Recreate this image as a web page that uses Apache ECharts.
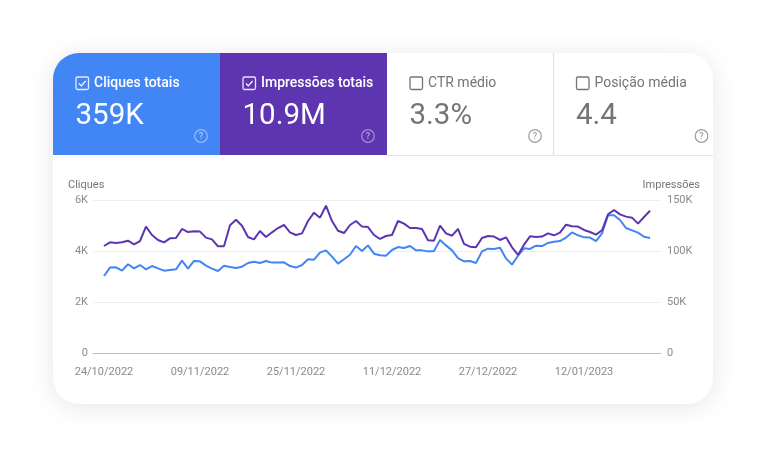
<!DOCTYPE html>
<html><head><meta charset="utf-8">
<style>html,body{margin:0;padding:0;background:#fff}#c{width:767px;height:457px}</style>
<script src="https://cdn.jsdelivr.net/npm/echarts@6/dist/echarts.min.js"></script>
</head><body><div id="c"></div>
<script>
const tickDays = [0,16,32,48,64,80];
const tickDates = ['24/10/2022','09/11/2022','25/11/2022','11/12/2022','27/12/2022','12/01/2023'];
const leftTicks = ['0','2K','4K','6K'];
const rightTicks = ['0','50K','100K','150K'];
const clicks = [3020,3350,3360,3230,3480,3320,3450,3280,3410,3320,3230,3255,3280,3620,3310,3610,3595,3425,3310,3215,3425,3370,3335,3385,3530,3580,3530,3610,3545,3545,3555,3410,3350,3450,3675,3660,3935,4025,3780,3505,3675,3855,4195,4000,4220,3895,
3830,3815,4040,4155,4120,4195,4025,4025,3985,4000,4430,4220,4025,3725,3595,3610,3530,3985,4090,4080,4130,3710,3465,3815,4105,4080,4210,4195,4315,4365,4390,4525,4730,4615,4535,4525,4390,4690,5400,5400,5215,4900,4810,4720,4560,4510];
const impressions = [104900,108500,107800,108500,110100,106500,109800,123900,115700,110800,108500,112400,112700,121600,118600,119300,119000,113100,111400,104600,104600,125200,130700,124800,113700,111400,119600,113700,118300,122500,125500,118300,115700,117300,129400,137600,132700,144400,129400,119900,117600,125500,129400,123900,123500,115700,
111800,114700,115700,129400,126800,122500,122500,121600,110500,110100,124800,117300,115000,121600,106900,104200,103600,112700,114700,114100,110800,113400,103600,96100,106200,114400,113700,114100,117300,115400,118000,125800,124200,123900,120600,118600,116000,120300,135900,140200,135900,133700,132700,126800,133300,139500];
const cards = [
  {title:'Cliques totais', value:'359K', fill:'#4285f4', on:true, x:53, w:167},
  {title:'Impressões totais', value:'10.9M', fill:'#5e35b1', on:true, x:220, w:167},
  {title:'CTR médio', value:'3.3%', fill:'#ffffff', on:false, x:387, w:166},
  {title:'Posição média', value:'4.4', fill:'#ffffff', on:false, x:553.5, w:159.5}
];

const CY = 53, CH = 102;
const g = [];
g.push({type:'rect', z:0, shape:{x:53,y:53,width:660,height:351,r:26},
  style:{fill:'#fff', shadowBlur:26, shadowColor:'rgba(0,0,0,0.10)', shadowOffsetY:3}});
cards.forEach((c,i) => {
  const x = c.x;
  const r = i===0 ? [26,0,0,0] : i===3 ? [0,26,0,0] : 0;
  g.push({type:'rect', z:1, shape:{x:x,y:CY,width:c.w,height:CH,r:r}, style:{fill:c.fill}});
  const fg = c.on ? '#ffffff' : '#757575';
  const bx = x+23, by = 77;
  g.push({type:'rect', z:2, shape:{x:bx,y:by,width:12.5,height:12.5,r:1.5},
    style:{fill:'none', stroke: c.on ? 'rgba(255,255,255,0.85)' : '#757575', lineWidth:1.3}});
  if (c.on) g.push({type:'polyline', z:2, shape:{points:[[bx+3,by+6.5],[bx+5.3,by+8.8],[bx+9.6,by+4]]},
    style:{fill:'none', stroke:'#fff', lineWidth:1.2}});
  g.push({type:'text', z:2, x:x+41, y:83.5, style:{text:c.title, fill:fg, font:(c.on?'500':'400')+' 14px Roboto', verticalAlign:'middle', align:'left'}});
  g.push({type:'text', z:2, x:x+22.5, y:117, style:{text:c.value, fill:fg, font:'400 29.5px Roboto', verticalAlign:'middle', align:'left'}});
  g.push({type:'circle', z:2, shape:{cx:x+148,cy:136,r:6.3},
    style:{fill:'none', stroke: c.on ? 'rgba(255,255,255,0.45)' : '#9e9e9e', lineWidth:1.2}});
  g.push({type:'text', z:2, x:x+148, y:136.5, style:{text:'?', fill: c.on ? 'rgba(255,255,255,0.55)' : '#9e9e9e', font:'500 9px Roboto', align:'center', verticalAlign:'middle'}});
});
g.push({type:'line', z:2, shape:{x1:553.5,y1:53,x2:553.5,y2:155}, style:{stroke:'#e0e0e0',lineWidth:1}});
g.push({type:'line', z:2, shape:{x1:387,y1:155.5,x2:713,y2:155.5}, style:{stroke:'#e6e6e6',lineWidth:1}});

const yLabel = (ticks, step, side) => ({color:'#8a8a8a', fontFamily:'Roboto', fontSize:11, margin:side==='l'?5:6, padding:[4,0,0,0],
  formatter: v => ticks[Math.round(v/step)]});
const chart = echarts.init(document.getElementById('c'), null, {renderer:'canvas'});
chart.setOption({
  animation:false,
  backgroundColor:'#ffffff',
  graphic:{elements:g},
  grid:{left:93, right:106, top:200, bottom:104, containLabel:false, z:3},
  xAxis:{type:'value', min:-1.83, max:92.83,
    axisLine:{onZero:false, show:true, lineStyle:{color:'#bdbdbd',width:1}},
    axisTick:{show:false}, splitLine:{show:false},
    axisLabel:{customValues:tickDays, formatter:v=>tickDates[tickDays.indexOf(Math.round(v))], color:'#8a8a8a', fontFamily:'Roboto', fontSize:11, margin:14}},
  yAxis:[
    {type:'value', min:0, max:6000, interval:2000, name:'Cliques', nameLocation:'end', nameGap:9,
     nameTextStyle:{color:'#757575', fontFamily:'Roboto', fontSize:11, align:'left', padding:[0,0,0,-36]},
     axisLine:{show:false}, axisTick:{show:false}, axisLabel:yLabel(leftTicks,2000,'l'),
     splitLine:{lineStyle:{color:'#eeeeee',width:1}}},
    {type:'value', min:0, max:150000, interval:50000, name:'Impressões', nameLocation:'end', nameGap:9,
     nameTextStyle:{color:'#757575', fontFamily:'Roboto', fontSize:11, align:'right', padding:[0,-39,0,0]},
     axisLine:{show:false}, axisTick:{show:false}, axisLabel:yLabel(rightTicks,50000,'r'), splitLine:{show:false}}
  ],
  series:[
    {name:'Cliques', type:'line', yAxisIndex:0, showSymbol:false, symbol:'none', z:3,
     lineStyle:{color:'#4285f4',width:2}, data:clicks.map((v,i)=>[i,v])},
    {name:'Impressões', type:'line', yAxisIndex:1, showSymbol:false, symbol:'none', z:4,
     lineStyle:{color:'#5e35b1',width:2}, data:impressions.map((v,i)=>[i,v])}
  ]
});
</script></body></html>
